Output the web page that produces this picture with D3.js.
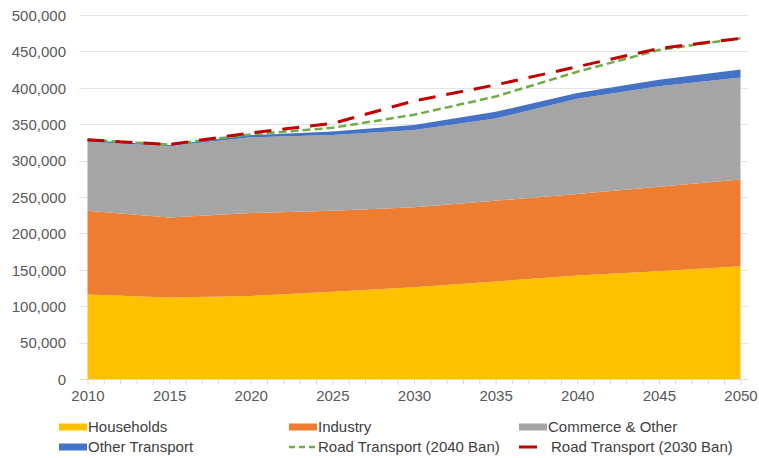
<!DOCTYPE html>
<html>
<head>
<meta charset="utf-8">
<script src="https://cdn.jsdelivr.net/npm/d3@7"></script>
<style>
  html, body { margin: 0; padding: 0; background: #fff; }
  svg { display: block; font-family: "Liberation Sans", Arial, sans-serif; }
</style>
</head>
<body>
<svg id="chart" width="759" height="458"></svg>
<script>
// ---- data (GWh) ----
const years = [2010, 2015, 2020, 2025, 2030, 2035, 2040, 2045, 2050];
const households     = [116000, 112000, 114000, 120000, 126000, 134000, 142000, 148000, 155000];
const industry       = [115000, 110000, 114000, 111000, 110000, 111000, 112000, 116000, 119000];
const commerce       = [ 95000,  98000, 104000, 104000, 106000, 113000, 131000, 138000, 140000];
const otherTransport = [  2000,   1500,   3000,   5000,   7000,   9000,   8000,   9000,  11000];
const road2040Ban    = [   500,    500,   1000,   5000,  14000,  21000,  29000,  41000,  43000];
const road2030Ban    = [   500,    500,   3000,  11000,  33000,  37000,  36000,  43000,  43000];
const yTicks = [0, 50000, 100000, 150000, 200000, 250000, 300000, 350000, 400000, 450000, 500000];
const xTicks = [2010, 2015, 2020, 2025, 2030, 2035, 2040, 2045, 2050];

const seriesNames = ["Households", "Industry", "Commerce & Other", "Other Transport"];
const seriesColors = ["#FFC000", "#ED7D31", "#A5A5A5", "#4472C4"];

// ---- build table ----
const table = years.map((y, i) => ({
  year: y,
  "Households": households[i],
  "Industry": industry[i],
  "Commerce & Other": commerce[i],
  "Other Transport": otherTransport[i]
}));

const svg = d3.select("#chart");
const x = d3.scaleLinear().domain([2010, 2050]).range([87.5, 740.5]);
const y = d3.scaleLinear().domain([0, 500000]).range([379, 15]);

// grid lines
svg.append("g").selectAll("line").data(yTicks.filter(d => d > 0)).join("line")
  .attr("x1", 80).attr("x2", 748)
  .attr("y1", d => Math.round(y(d)) + 0.5).attr("y2", d => Math.round(y(d)) + 0.5)
  .attr("stroke", "#E4E4E4").attr("stroke-width", 1);

// stacked areas
const stack = d3.stack().keys(seriesNames);
const stacked = stack(table);
const area = d3.area()
  .x(d => x(d.data.year))
  .y0(d => y(d[0]))
  .y1(d => y(d[1]));
svg.append("g").selectAll("path").data(stacked).join("path")
  .attr("d", area)
  .attr("fill", (d, i) => seriesColors[i]);

// road transport lines (on top of stacked total)
const baseTotal = years.map((yr, i) => households[i] + industry[i] + commerce[i] + otherTransport[i]);
const line = d3.line().x(d => x(d[0])).y(d => y(d[1]));
const green = years.map((yr, i) => [yr, baseTotal[i] + road2040Ban[i]]);
const red = years.map((yr, i) => [yr, baseTotal[i] + road2030Ban[i]]);
svg.append("path").attr("d", line(green))
  .attr("fill", "none").attr("stroke", "#70AD47").attr("stroke-width", 2.5)
  .attr("stroke-dasharray", "8,4");
svg.append("path").attr("d", line(red))
  .attr("fill", "none").attr("stroke", "#C00000").attr("stroke-width", 3)
  .attr("stroke-dasharray", "17,11");

// x axis
const xAxis = d3.axisBottom(x)
  .tickValues(d3.range(2010, 2051, 1))
  .tickSize(5)
  .tickFormat(d => (xTicks.includes(d) ? String(d) : ""));
const gx = svg.append("g").attr("transform", "translate(0,379.5)").call(xAxis);
gx.select(".domain").attr("d", "M80,0H748").attr("stroke", "#D9D9D9");
gx.selectAll(".tick line").attr("stroke", "#D9D9D9");
gx.selectAll(".tick text")
  .attr("y", 11).attr("dy", "0.71em")
  .attr("fill", "#595959").attr("font-size", "15px")
  .attr("font-family", "Liberation Sans, Arial, sans-serif");

// y axis labels
const yAxis = d3.axisLeft(y).tickValues(yTicks).tickSize(0)
  .tickFormat(d => d3.format(",")(d));
const gy = svg.append("g").attr("transform", "translate(66,0)").call(yAxis);
gy.select(".domain").remove();
gy.selectAll(".tick text")
  .attr("x", 0).attr("dy", "0.35em")
  .attr("fill", "#595959").attr("font-size", "15px")
  .attr("font-family", "Liberation Sans, Arial, sans-serif");

// legend
const legendItems = [
  { name: "Households", type: "rect", color: "#FFC000", x: 59, y: 427 },
  { name: "Industry", type: "rect", color: "#ED7D31", x: 289, y: 427 },
  { name: "Commerce & Other", type: "rect", color: "#A5A5A5", x: 519, y: 427 },
  { name: "Other Transport", type: "rect", color: "#4472C4", x: 59, y: 447 },
  { name: "Road Transport (2040 Ban)", type: "green", color: "#70AD47", x: 289, y: 447 },
  { name: "Road Transport (2030 Ban)", type: "red", color: "#C00000", x: 519, y: 447 }
];
const lg = svg.append("g");
legendItems.forEach(it => {
  const g = lg.append("g");
  let tx = it.x + 29;
  if (it.type === "rect") {
    g.append("rect").attr("x", it.x).attr("y", it.y - 3.5).attr("width", 28).attr("height", 7).attr("fill", it.color);
  } else if (it.type === "green") {
    g.append("line").attr("x1", it.x).attr("x2", it.x + 28).attr("y1", it.y).attr("y2", it.y)
      .attr("stroke", it.color).attr("stroke-width", 2.5).attr("stroke-dasharray", "6,4");
  } else {
    g.append("line").attr("x1", it.x).attr("x2", it.x + 18).attr("y1", it.y).attr("y2", it.y)
      .attr("stroke", it.color).attr("stroke-width", 3);
    tx = it.x + 32;
  }
  g.append("text").attr("x", tx).attr("y", it.y).attr("dy", "0.35em")
    .attr("fill", "#404040").attr("font-size", "15px").text(it.name);
});
</script>
</body>
</html>
